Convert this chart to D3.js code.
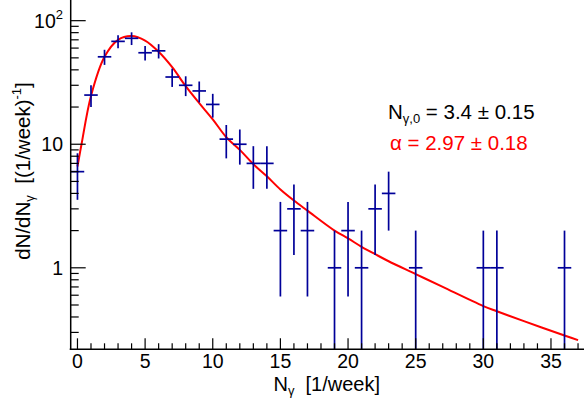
<!DOCTYPE html>
<html>
<head>
<meta charset="utf-8">
<script src="https://cdn.jsdelivr.net/npm/d3@7"></script>
<style>
  body { margin: 0; background: #fff; }
  text { font-family: "Liberation Sans", Arial, sans-serif; }
</style>
</head>
<body>
<div id="chart"></div>
<script>
// measured histogram (non-empty bins only), Poisson errors
const nGamma = [0, 1, 2, 3, 4, 5, 6, 7, 8, 9, 10, 11, 12, 13, 14, 15, 16, 17, 19, 20, 21, 22, 23, 25, 30, 31, 36];
const counts = [6, 25, 51, 68, 72, 55, 57, 35, 30, 27, 21, 11, 10, 7, 7, 2, 3, 2, 1, 2, 1, 3, 4, 1, 1, 1, 1];

// fit curve
const fitX = [0, 0.3, 1, 2, 3, 4, 5, 6, 7, 8, 9, 10, 11, 12, 13, 14, 15, 16, 17, 19, 20, 21, 22, 23, 25, 27, 30, 31, 33, 36, 37];
const fitY = [6.6, 10, 24.6, 51, 70, 75, 69, 56, 42, 29.5, 21.5, 15.9, 11.4, 9.0, 6.9, 5.5, 4.3, 3.5, 2.9, 2.0, 1.73, 1.48, 1.29, 1.13, 0.89, 0.70, 0.49, 0.445, 0.37, 0.283, 0.26];

const xTicksMajor = [0, 5, 10, 15, 20, 25, 30, 35];
const yTicksMajor = [1, 10, 100];

const width = 584;
const height = 402;

const x = d3.scaleLinear().domain([-0.5, 37.5]).range([70.7, 584.8]);
const y = d3.scaleLog().domain([0.219, 147]).range([349.3, 0]);

const svg = d3.select('#chart')
    .append('svg')
        .attr('width', width)
        .attr('height', height);

// fit curve
const line = d3.line()
    .x(d => x(d[0]))
    .y(d => y(d[1]))
    .curve(d3.curveCatmullRom.alpha(0.5));

svg.append('path')
    .datum(fitX.map((v, i) => [v, fitY[i]]))
    .attr('d', line)
    .attr('fill', 'none')
    .attr('stroke', '#ff0000')
    .attr('stroke-width', 2);

// error bars
const pts = svg.append('g')
    .attr('stroke', '#000099')
    .attr('stroke-width', 1.7);

nGamma.forEach((n, i) => {
    const c = counts[i];
    const err = Math.sqrt(c);
    const lo = c - err > y.domain()[0] ? y(c - err) : y.range()[0];
    pts.append('line')
        .attr('x1', x(n)).attr('x2', x(n))
        .attr('y1', lo).attr('y2', y(c + err));
    pts.append('line')
        .attr('x1', Math.max(x(n - 0.5), x.range()[0])).attr('x2', x(n + 0.5))
        .attr('y1', y(c)).attr('y2', y(c));
});

// axes
const axes = svg.append('g').attr('stroke', '#000').attr('stroke-width', 1.5);
axes.append('line')
    .attr('x1', x.range()[0]).attr('x2', x.range()[0])
    .attr('y1', 0).attr('y2', y.range()[0]);
axes.append('line')
    .attr('x1', x.range()[0] - 1).attr('x2', width)
    .attr('y1', y.range()[0]).attr('y2', y.range()[0]);

// x ticks (inward)
d3.range(0, 38).forEach(v => {
    const len = v % 5 === 0 ? 11 : 6;
    axes.append('line')
        .attr('x1', x(v)).attr('x2', x(v))
        .attr('y1', y.range()[0]).attr('y2', y.range()[0] - len)
        .attr('stroke-width', 1.2);
});

// y ticks (log, inward)
const yMinor = [];
[0.1, 1, 10, 100].forEach(dec => {
    for (let k = 1; k <= 9; k++) yMinor.push(dec * k);
});
yMinor.filter(v => v >= y.domain()[0] && v <= y.domain()[1]).forEach(v => {
    const major = yTicksMajor.some(m => Math.abs(m - v) < 1e-9);
    axes.append('line')
        .attr('x1', x.range()[0]).attr('x2', x.range()[0] + (major ? 15 : 8))
        .attr('y1', y(v)).attr('y2', y(v))
        .attr('stroke-width', 1.2);
});

// tick labels
svg.append('g').selectAll('text')
    .data(xTicksMajor)
    .enter()
        .append('text')
            .attr('x', d => x(d))
            .attr('y', 368)
            .attr('text-anchor', 'middle')
            .attr('font-size', 19.5)
            .text(d => d);

const yl = svg.append('g').attr('font-size', 19.5).attr('text-anchor', 'end');
yl.append('text').attr('x', 63).attr('y', y(1) + 7).text('1');
yl.append('text').attr('x', 63).attr('y', y(10) + 7).text('10');
const t100 = yl.append('text').attr('x', 63).attr('y', y(100) + 7);
t100.append('tspan').text('10');
t100.append('tspan').attr('font-size', 13).attr('dy', -9).text('2');

// axis titles
const xt = svg.append('text')
    .attr('x', 380)
    .attr('y', 391)
    .attr('text-anchor', 'end')
    .attr('font-size', 20);
xt.append('tspan').text('N');
xt.append('tspan').attr('font-size', 13).attr('dy', 4).text('γ');
xt.append('tspan').attr('dy', -4).text('\u00a0\u00a0[1/week]');

const ytl = svg.append('text')
    .attr('transform', 'translate(30, 171) rotate(-90)')
    .attr('text-anchor', 'middle')
    .attr('font-size', 20.5);
ytl.append('tspan').text('dN/dN');
ytl.append('tspan').attr('font-size', 13).attr('dy', 4).text('γ');
ytl.append('tspan').attr('dy', -4).text('\u00a0\u00a0[(1/week)');
ytl.append('tspan').attr('font-size', 13).attr('dy', -9).text('-1');
ytl.append('tspan').attr('dy', 9).text(']');

// fit results
const l1 = svg.append('text').attr('x', 388).attr('y', 119).attr('font-size', 20.5).attr('fill', '#000');
l1.append('tspan').text('N');
l1.append('tspan').attr('font-size', 13).attr('dy', 4).text('γ,0');
l1.append('tspan').attr('dy', -4).text(' = 3.4 ± 0.15');

svg.append('text')
    .attr('x', 390)
    .attr('y', 150)
    .attr('font-size', 20.5)
    .attr('fill', '#ff0000')
    .text('α = 2.97 ± 0.18');
</script>
</body>
</html>
